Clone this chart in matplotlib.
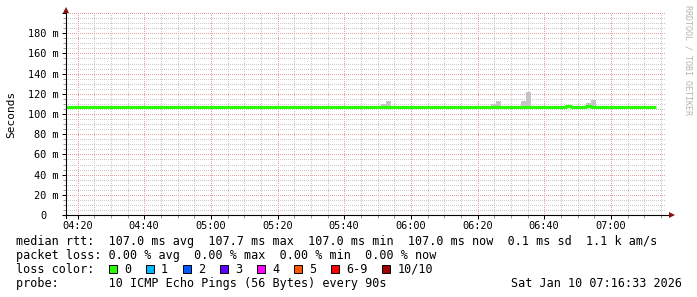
import matplotlib
matplotlib.use("Agg")
import matplotlib.pyplot as plt
import matplotlib.dates as mdates
from matplotlib.patches import Rectangle
from matplotlib.transforms import ScaledTranslation
from matplotlib.ticker import MultipleLocator, FixedLocator
from datetime import datetime, timedelta

plt.rcParams['font.family'] = ['DejaVu Sans Mono']

# ---------------- data ----------------
DAY = "2026-01-10 "
window_start = "04:16:33"
window_end = "07:16:33"

median_times = ["04:16:33", "06:46:30", "06:48:00", "06:52:30", "06:54:00", "07:13:30"]
median_values = [107.0, 107.9, 107.0, 107.9, 107.0, 107.0]   # ms

smoke_times = ["05:51:00", "05:52:30", "06:24:00", "06:25:30",
               "06:33:00", "06:34:30", "06:52:30", "06:54:00"]
smoke_low = [107.0, 107.0, 107.0, 107.0, 107.0, 107.0, 107.9, 107.0]   # ms
smoke_high = [109.8, 112.7, 109.8, 112.7, 112.7, 121.9, 110.8, 113.7]  # ms
smoke_step_s = 90

y_ticks = [0, 20, 40, 60, 80, 100, 120, 140, 160, 180, 200]
y_tick_labels = ["0", "20 m", "40 m", "60 m", "80 m", "100 m", "120 m",
                 "140 m", "160 m", "180 m", ""]

rtt_stat_names = ["avg", "max", "min", "now"]
rtt_stat_values = [107.0, 107.7, 107.0, 107.0]
rtt_sd = 0.1
rtt_ams = 1.1
loss_stat_names = ["avg", "max", "min", "now"]
loss_stat_values = [0.00, 0.00, 0.00, 0.00]
loss_labels = ["0", "1", "2", "3", "4", "5", "6-9", "10/10"]
loss_colors = ["#26ff00", "#00b8ff", "#0059ff", "#5e00ff", "#ff00ff",
               "#ff5500", "#ff0000", "#a10000"]
probe_text = "10 ICMP Echo Pings (56 Bytes) every 90s"
stamp_text = "Sat Jan 10 07:16:33 2026"

# ---------------- figure ----------------
W, H = 697, 297
fig = plt.figure(figsize=(W / 100, H / 100), dpi=100)
fig.patch.set_facecolor("white")

ax_l, ax_r, ax_t, ax_b = 66, 666, 13, 215
ax = fig.add_axes([ax_l / W, 1 - ax_b / H, (ax_r - ax_l) / W, (ax_b - ax_t) / H])
ax.set_facecolor("white")

def t(s):
    return datetime.strptime(DAY + s, "%Y-%m-%d %H:%M:%S")

x0, x1 = t(window_start), t(window_end)
ax.set_xlim(x0, x1)
ax.set_ylim(0, 200)

# grid lines
minor_col = "#c8c8c8"
major_col = "#eaa0a0"
ax.xaxis.set_major_locator(mdates.MinuteLocator(byminute=[0, 20, 40]))
ax.xaxis.set_minor_locator(mdates.MinuteLocator(byminute=range(0, 60, 5)))
ax.xaxis.set_major_formatter(mdates.DateFormatter("%H:%M"))
ax.yaxis.set_major_locator(FixedLocator(y_ticks))
ax.yaxis.set_minor_locator(MultipleLocator(5))
ax.set_yticklabels(y_tick_labels)

ax.grid(which="minor", color=minor_col, linewidth=0.72, linestyle=(0, (1, 2)),
        zorder=0, antialiased=False)
ax.grid(which="major", color=major_col, linewidth=0.72, linestyle=(0, (1, 2)),
        zorder=0, antialiased=False)
ax.set_axisbelow(True)

for sp in ax.spines.values():
    sp.set_visible(False)

ax.tick_params(axis="both", which="major", length=3, width=0.72, color="#000000",
               labelsize=7.4, direction="out")
ax.tick_params(axis="both", which="minor", length=2, width=0.72, color="#999999",
               direction="out")
ax.tick_params(axis="x", which="major", pad=1.5)
ax.tick_params(axis="y", which="major", pad=2.2)

# shift the "0" label like rrdtool does
for lab in ax.get_yticklabels():
    if lab.get_text() == "0":
        lab.set_transform(lab.get_transform() + ScaledTranslation(-12 / 100, 0, fig.dpi_scale_trans))

# smoke
smoke_x = [t(s) for s in smoke_times]
ax.bar(smoke_x, [h - l for h, l in zip(smoke_high, smoke_low)], bottom=smoke_low,
       width=timedelta(seconds=smoke_step_s), align="edge", color="#c4c4c4",
       linewidth=0, zorder=2)

# median line
ax.plot([t(s) for s in median_times], median_values, drawstyle="steps-post",
        color=loss_colors[0], linewidth=2.2, solid_capstyle="butt", zorder=3)

# axes lines + arrows
ax.plot([-3 / 600, 603 / 600], [0, 0], transform=ax.transAxes, color="black",
        linewidth=0.8, clip_on=False, zorder=4)
ax.plot([0, 0], [-3 / 202, 1 + 1 / 202], transform=ax.transAxes, color="black",
        linewidth=0.8, clip_on=False, zorder=4)
ax.plot([1 + 6 / 600], [0], marker=">", markersize=4.5, color="#8b1010",
        transform=ax.transAxes, clip_on=False, zorder=5, markeredgewidth=0)
ax.plot([0], [1 + 3 / 202], marker="^", markersize=4.5, color="#8b1010",
        transform=ax.transAxes, clip_on=False, zorder=5, markeredgewidth=0)

# y unit label
fig.text(11.5 / W, 1 - 114 / H, "Seconds", rotation=90, ha="center", va="center",
         fontsize=8, color="black")

# watermark
fig.text(688 / W, 1 - 5 / H, "RRDTOOL / TOBI OETIKER", rotation=270, ha="center",
         va="top", fontsize=6, color="#b4b4b4")

# ---------------- legend ----------------
FS = 8.5
row1 = "median rtt:  " + "  ".join(f"{v:.1f} ms {n}" for v, n in zip(rtt_stat_values, rtt_stat_names)) \
       + f"  {rtt_sd:.1f} ms sd  {rtt_ams:.1f} k am/s"
row2 = "packet loss: " + "  ".join(f"{v:.2f} % {n}" for v, n in zip(loss_stat_values, loss_stat_names))
row4 = "probe:       " + probe_text

fig.text(16 / W, 1 - 245.5 / H, row1, fontsize=FS, va="baseline", ha="left")
fig.text(16 / W, 1 - 259.5 / H, row2, fontsize=FS, va="baseline", ha="left")
fig.text(16 / W, 1 - 273 / H, "loss color:", fontsize=FS, va="baseline", ha="left")
fig.text(16 / W, 1 - 287 / H, row4, fontsize=FS, va="baseline", ha="left")
fig.text(682 / W, 1 - 287 / H, stamp_text, fontsize=FS, va="baseline", ha="right")

cw = 7.1
sx = 108.5
for lab, col in zip(loss_labels, loss_colors):
    fig.patches.append(Rectangle((sx / W, 1 - 273 / H), 8 / W, 8 / H, transform=fig.transFigure,
                                 facecolor=col, edgecolor="black", linewidth=0.7))
    fig.text((sx + 15.5) / W, 1 - 273 / H, lab, fontsize=FS, va="baseline", ha="left")
    sx += 30 + len(lab) * cw

fig.savefig("out.png", dpi=100, facecolor="white")
